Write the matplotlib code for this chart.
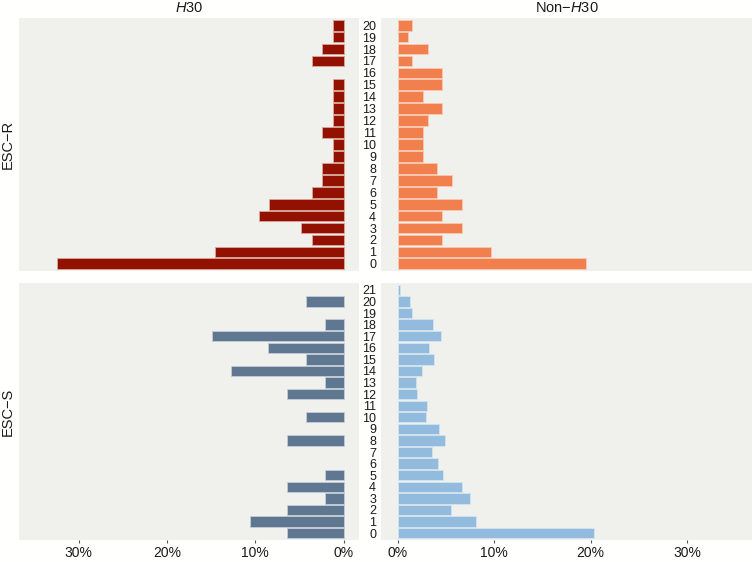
import numpy as np
import matplotlib.pyplot as plt
from matplotlib.ticker import FuncFormatter

plt.rcParams['font.family'] = ['Liberation Sans', 'DejaVu Sans']
plt.rcParams['mathtext.fontset'] = 'custom'
plt.rcParams['mathtext.rm'] = 'Liberation Sans'
plt.rcParams['mathtext.it'] = 'Liberation Sans:italic'

# percentages
esc_r_cats = list(range(0, 21))
esc_r_h30 = [32.5, 14.5, 3.6, 4.8, 9.6, 8.4, 3.6, 2.4, 2.4, 1.2, 1.2,
             2.4, 1.2, 1.2, 1.2, 1.2, 0.0, 3.6, 2.4, 1.2, 1.2]
esc_r_non = [19.5, 9.7, 4.6, 6.7, 4.6, 6.7, 4.1, 5.6, 4.1, 2.6, 2.6,
             2.6, 3.1, 4.6, 2.6, 4.6, 4.6, 1.5, 3.1, 1.0, 1.5]

esc_s_cats = list(range(0, 22))
esc_s_h30 = [6.4, 10.6, 6.4, 2.1, 6.4, 2.1, 0.0, 0.0, 6.4, 0.0, 4.3,
             0.0, 6.4, 2.1, 12.8, 4.3, 8.5, 14.9, 2.1, 0.0, 4.3, 0.0]
esc_s_non = [20.4, 8.1, 5.5, 7.5, 6.65, 4.7, 4.15, 3.5, 4.9, 4.25, 2.9,
             3.0, 2.0, 1.9, 2.5, 3.75, 3.2, 4.45, 3.65, 1.45, 1.25, 0.2]

rows = ["ESC\u2212R", "ESC\u2212S"]
cols = ["$\\mathit{H30}$", "Non$-\\mathit{H30}$"]
colors = [["#921100", "#f2804e"], ["#5f7791", "#92bbde"]]
edges = [["#d9a79c", "#f9c9b2"], ["#c3ccd6", "#d3e3f1"]]

data = [[(esc_r_cats, esc_r_h30), (esc_r_cats, esc_r_non)],
        [(esc_s_cats, esc_s_h30), (esc_s_cats, esc_s_non)]]

W, H = 752, 562
fig = plt.figure(figsize=(W / 100, H / 100), dpi=100, facecolor="#fffffd")

# panel boxes in pixels: left, right, top, bottom
xs = [(19, 359), (381, 752)]
ys = [(18, 271), (283, 540)]

pct = FuncFormatter(lambda v, p: "%d%%" % round(v))

for r in range(2):
    for c in range(2):
        x0, x1 = xs[c]
        y0, y1 = ys[r]
        ax = fig.add_axes([x0 / W, 1 - y1 / H, (x1 - x0) / W, (y1 - y0) / H])
        ax.set_facecolor("#f0f0ed")
        for s in ax.spines.values():
            s.set_visible(False)
        cats, vals = data[r][c]
        cats = np.array(cats)
        vals = np.array(vals)
        keep = vals > 0
        ax.barh(cats[keep], vals[keep], height=0.9, color=colors[r][c],
                edgecolor=edges[r][c], linewidth=0.6)
        ax.set_ylim(-0.6, len(cats) - 0.4)
        if c == 0:
            ax.set_xlim(36.75, -1.75)
            ax.set_yticks([])
            ax.set_ylabel(rows[r], fontsize=10.5, color="#1a1a1a", labelpad=3)
        else:
            ax.set_xlim(-1.75, 36.75)
            ax.set_yticks(cats)
            ax.set_yticklabels([str(k) for k in cats])
            ax.tick_params(axis="y", length=0, pad=3.6, labelsize=9,
                           labelcolor="#1a1a1a")
        ax.set_xticks([0, 10, 20, 30])
        ax.xaxis.set_major_formatter(pct)
        if r == 0:
            ax.tick_params(axis="x", length=0, labelbottom=False)
            ax.set_title(cols[c], fontsize=10.5, color="#1a1a1a", pad=4)
        else:
            ax.tick_params(axis="x", length=2.5, width=0.8, color="#555555",
                           labelsize=10, labelcolor="#1a1a1a", pad=2)

fig.savefig("out.png", dpi=100, facecolor=fig.get_facecolor())
